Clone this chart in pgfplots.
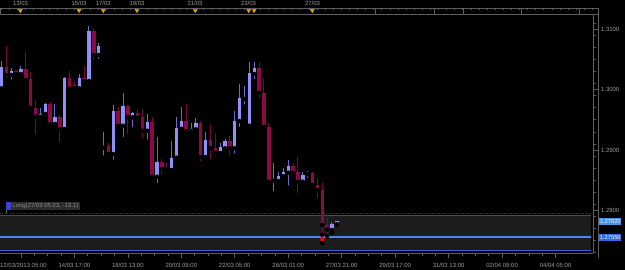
\documentclass[border=0pt]{standalone}
\usepackage{pgfplots}
\pgfplotsset{compat=1.18}
\usepackage{pgfplotstable}
\usepackage{fontspec}
\setmainfont{Liberation Sans}
\definecolor{axgray}{HTML}{5E5E5E}
\definecolor{dotgray}{HTML}{3C3C3C}
\definecolor{lblgray}{HTML}{9C9C9C}
\definecolor{bullbody}{HTML}{9090F6}
\definecolor{bullwick}{HTML}{6A6AD0}
\definecolor{bearbody}{HTML}{8C0A44}
\definecolor{bearwick}{HTML}{740838}
\definecolor{bandgray}{HTML}{1C1C1C}
\definecolor{lineA}{HTML}{2A4C9E}
\definecolor{lineB}{HTML}{4A86F0}
\definecolor{lineC}{HTML}{3A5CDA}
\definecolor{evt}{HTML}{E0A400}
\definecolor{boxA}{HTML}{4A92DC}
\definecolor{boxB}{HTML}{2F6AE6}
\definecolor{legbg}{HTML}{2C2C2C}
\definecolor{legtx}{HTML}{8C8C8C}
\definecolor{legsq}{HTML}{4040D0}

\pgfplotstableread{
x o h l c
0 1.30022 1.30475 1.29982 1.30370
2 1.30243 1.30354 1.30131 1.30309
4 1.30259 1.30392 1.30243 1.30342
8 1.29551 1.29696 1.29497 1.29596
9 1.29596 1.29778 1.29579 1.29762
11 1.29430 1.29762 1.29422 1.29546
13 1.29347 1.30214 1.29314 1.30188
16 1.30022 1.30259 1.30010 1.30188
18 1.30143 1.31055 1.30131 1.30977
20 1.30574 1.30773 1.30475 1.30723
21 1.29038 1.29303 1.28872 1.29071
23 1.28933 1.29745 1.28805 1.29646
25 1.29402 1.29949 1.29182 1.29729
27 1.29541 1.29634 1.29343 1.29608
30 1.29319 1.29596 1.29137 1.29458
32 1.28557 1.29220 1.28419 1.28800
35 1.28668 1.29149 1.28657 1.28872
36 1.28872 1.29551 1.28834 1.29364
37 1.29352 1.29717 1.29331 1.29480
39 1.29314 1.29442 1.29265 1.29352
40 1.29343 1.29525 1.29314 1.29442
42 1.28883 1.29303 1.28862 1.29165
45 1.28950 1.29110 1.28878 1.29041
46 1.29028 1.29182 1.29016 1.29149
48 1.29028 1.29646 1.28905 1.29480
49 1.29480 1.30088 1.29347 1.29856
50 1.29845 1.30060 1.29717 1.29878
51 1.29402 1.30463 1.29397 1.30271
52 1.30259 1.30463 1.30143 1.30364
56 1.28486 1.28779 1.28282 1.28502
57 1.28486 1.28640 1.28419 1.28573
58 1.28564 1.28701 1.28544 1.28640
59 1.28623 1.28834 1.28375 1.28734
62 1.28474 1.28630 1.28431 1.28585
63 1.28597 1.28651 1.28502 1.28613
68 1.27673 1.27811 1.27624 1.27768
69 1.27768 1.27825 1.27765 1.27820
}\bull

\pgfplotstableread{
x o h l c
1 1.30370 1.30728 1.30160 1.30243
3 1.30309 1.30325 1.30243 1.30259
5 1.30342 1.30629 1.30131 1.30160
6 1.30176 1.30297 1.29634 1.29700
7 1.29700 1.29828 1.29220 1.29551
10 1.29762 1.29795 1.29414 1.29430
12 1.29546 1.29579 1.29099 1.29347
14 1.30188 1.30309 1.29966 1.30010
15 1.30077 1.30131 1.29994 1.30027
17 1.30188 1.30392 1.30131 1.30143
19 1.30977 1.31027 1.30463 1.30574
22 1.29071 1.29115 1.28888 1.28933
24 1.29646 1.29717 1.29359 1.29402
26 1.29729 1.29745 1.29220 1.29551
28 1.29608 1.29662 1.29447 1.29535
29 1.29541 1.29679 1.29165 1.29319
31 1.29458 1.29551 1.28502 1.28557
33 1.28800 1.28850 1.28557 1.28684
34 1.28693 1.28784 1.28635 1.28676
38 1.29480 1.29762 1.29286 1.29314
41 1.29442 1.29480 1.28779 1.28883
43 1.29165 1.29414 1.28805 1.29028
44 1.29038 1.29286 1.28862 1.28955
47 1.29149 1.29231 1.28872 1.29028
53 1.30364 1.30463 1.29828 1.29949
54 1.29949 1.30188 1.29331 1.29386
55 1.29386 1.29452 1.28447 1.28474
60 1.28734 1.28784 1.28568 1.28623
61 1.28640 1.28888 1.28254 1.28474
64 1.28613 1.28630 1.28391 1.28419
65 1.28419 1.28530 1.28171 1.28336
66 1.28336 1.28452 1.27590 1.27756
67 1.27756 1.27867 1.27574 1.27682
}\bear

\pgfplotstableread{
x y
3.87 1.313124
15.95 1.313124
20.95 1.313124
27.88 1.313124
39.88 1.313124
50.86 1.313124
51.95 1.313124
63.95 1.313124
}\events

\begin{document}
\begin{tikzpicture}
\useasboundingbox (0,0) rectangle (625bp,270bp);
\fill[black] (0,0) rectangle (625bp,270bp);
\begin{axis}[
  at={(0bp,17bp)}, anchor=south west,
  scale only axis, width=593bp, height=239bp,
  xmin=-0.309, xmax=121.708, ymin=1.272921, ymax=1.312536,
  clip=false,
  axis x line*=bottom, axis y line*=right,
  axis line style={-, draw=axgray, line width=0.6bp},
  tick style={draw=axgray, line width=0.6bp},
  tick align=outside, major tick length=5bp, minor tick length=3bp,
  xtick={4,15,26,37,48,59,70,81,92,103,114},
  xticklabels={\hspace*{5bp}12/03/2013 05:00,14/03 17:00,18/03 13:00,20/03 09:00,22/03 05:00,26/03 01:00,27/03 21:00,29/03 17:00,31/03 13:00,02/04 09:00,04/04 05:00},
  minor x tick num=3,
  ytick={1.28,1.29,1.30,1.31},
  yticklabels={1.2800,1.2900,1.3000,1.3100},
  minor ytick={1.273,1.275,1.277,1.279,1.281,1.283,1.285,1.287,1.289,1.291,1.293,1.295,1.297,1.299,1.301,1.303,1.305,1.307,1.309,1.311},
  scaled y ticks=false,
  ticklabel style={font=\fontsize{6}{7}\selectfont, text=lblgray},
  xticklabel style={yshift=-1.5bp},
  yticklabel style={xshift=-0.5bp},
]
% band
\addplot [draw=none, fill=bandgray] coordinates {(-0.309,1.27337) (121.3,1.27337) (121.3,1.27910) (-0.309,1.27910)} -- cycle;
\addplot [draw=dotgray, line width=1.2bp, dash pattern=on 0.5bp off 1.9bp] coordinates {(-0.309,1.27945) (121.3,1.27945)};
\addplot [draw=lineA, line width=1.2bp] coordinates {(-0.309,1.27910) (121.3,1.27910)};
\addplot [draw=lineB, line width=1.2bp] coordinates {(-0.309,1.27556) (121.3,1.27556)};
\addplot [draw=lineC, line width=1.2bp] coordinates {(-0.309,1.27337) (121.3,1.27337)};
% wicks
\addplot [only marks, mark=none, error bars/.cd, y dir=plus, y explicit, error mark=none,
  error bar style={line width=1bp, draw=bullwick}]
  table [x=x, y=l, y error plus expr=\thisrow{h}-\thisrow{l}] {\bull};
\addplot [only marks, mark=none, error bars/.cd, y dir=plus, y explicit, error mark=none,
  error bar style={line width=1bp, draw=bearwick}]
  table [x=x, y=l, y error plus expr=\thisrow{h}-\thisrow{l}] {\bear};
% bodies
\addplot [only marks, mark=none, error bars/.cd, y dir=plus, y explicit, error mark=none,
  error bar style={line width=3.4bp, draw=bullbody}]
  table [x=x, y=o, y error plus expr=\thisrow{c}-\thisrow{o}] {\bull};
\addplot [only marks, mark=none, error bars/.cd, y dir=plus, y explicit, error mark=none,
  error bar style={line width=3.4bp, draw=bearbody}]
  table [x=x, y=c, y error plus expr=\thisrow{o}-\thisrow{c}] {\bear};
% trade arrow
\addplot [only marks, mark=none, error bars/.cd, y dir=plus, y explicit, error mark=none,
  error bar style={line width=2bp, draw=red}]
  coordinates {(66,1.27453) +- (0,0.00066)};
\addplot [only marks, mark=triangle*, mark size=2.6bp, color=red] coordinates {(66,1.27528)};
% event markers
\addplot [only marks, mark=triangle*, mark size=2.3bp, color=evt, mark options={rotate=180}] table [x=x, y=y] {\events};
\end{axis}
% top bar
\draw[axgray, line width=0.6bp] (0,262bp) -- (598bp,262bp);
\draw[axgray, line width=0.6bp] (0,256bp) -- (598bp,256bp);
\draw[axgray, line width=0.6bp] (0.3bp,262bp) -- (0.3bp,256bp);
\draw[axgray, line width=0.6bp] (598bp,262bp) -- (598bp,12bp);
\foreach \i in {0,...,73} \draw[axgray, line width=0.5bp] (1bp+\i*8.1bp,262bp) -- ++(0,-2.4bp);
\foreach \xx in {375.7,434.3,463,521.7,579.3} \draw[axgray, line width=0.6bp] (\xx bp,262bp) -- (\xx bp,256bp);
\begin{scope}[every node/.style={font=\fontsize{6}{7}\selectfont, text=lblgray, inner sep=0pt}]
\node at (20.5bp,266.4bp) {13/03};
\node at (79bp,266.4bp) {15/03};
\node at (103.3bp,266.4bp) {17/03};
\node at (137bp,266.4bp) {19/03};
\node at (195bp,266.4bp) {21/03};
\node at (248.5bp,266.4bp) {23/03};
\node at (312.5bp,266.4bp) {27/03};
\end{scope}
% legend box
\fill[legsq] (6bp,60bp) rectangle (11bp,68.3bp);
\node[anchor=west, fill=legbg, text=legtx, inner xsep=1.3bp, inner ysep=0pt, minimum height=8.3bp, font=\fontsize{6}{7}\selectfont] at (11bp,64.15bp) {Long(27/03 05:23, -13.1)};
\draw[axgray, line width=0.6bp] (6.3bp,60bp) -- (6.3bp,57bp);
% price boxes
\node[anchor=west, fill=boxA, text=white!85!boxA, inner xsep=0.8bp, inner ysep=0pt, minimum height=7bp, font=\fontsize{5.8}{7}\selectfont] at (598.8bp,48.4bp) {1.27820};
\node[anchor=west, fill=boxB, text=yellow!30!white, inner xsep=0.8bp, inner ysep=0pt, minimum height=7bp, font=\fontsize{5.8}{7}\selectfont] at (598.8bp,32.3bp) {1.27556};
\end{tikzpicture}
\end{document}
